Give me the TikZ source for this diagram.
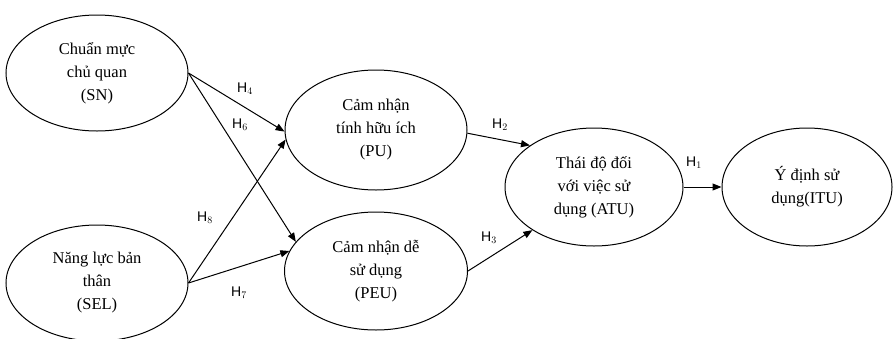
\documentclass[tikz,border=0pt]{standalone}
\usepackage{fontspec}
\setmainfont{Liberation Serif}
\newfontfamily\labfont{Liberation Sans}
\usetikzlibrary{shapes.geometric,arrows.meta}
\begin{document}
\begin{tikzpicture}[x=1pt,y=-1pt,
 var/.style={draw,ellipse,line width=1pt,inner sep=0pt,align=center,font=\fontsize{16.5}{23}\selectfont},
 conn/.style={draw,line width=1pt,-{Triangle[length=9pt,width=7pt]}},
 hlab/.style={font=\labfont\fontsize{14}{16}\selectfont,inner sep=0pt}]
\useasboundingbox (0,0) rectangle (894,338);
\node[var,minimum width=182pt,minimum height=116pt] (SN) at (97,73) {Chuẩn mực\\chủ quan\\(SN)};
\node[var,minimum width=182pt,minimum height=116pt] (SEL) at (97,283) {Năng lực bản\\thân\\(SEL)};
\node[var,minimum width=182pt,minimum height=120pt] (PU) at (376,130) {Cảm nhận\\tính hữu ích\\(PU)};
\node[var,minimum width=183pt,minimum height=118pt] (PEU) at (376,271) {Cảm nhận dễ\\sử dụng\\(PEU)};
\node[var,minimum width=178pt,minimum height=118pt] (ATU) at (594,187) {Thái độ đối\\với việc sử\\dụng (ATU)};
\node[var,minimum width=170pt,minimum height=118pt] (ITU) at (807,187) {Ý định sử\\dụng(ITU)};
\draw[conn] (SN.east) -- (PU.181);
\draw[conn] (SN.east) -- (PEU.160);
\draw[conn] (SEL.east) -- (PU.186);
\draw[conn] (SEL.east) -- (PEU.167);
\draw[conn] (PU.-2) -- (ATU.147);
\draw[conn] (PEU.0) -- (ATU.215);
\draw[conn] (ATU.east) -- (ITU.west);
\node[hlab] (h4) at (245,89) {H$_4$};
\node[hlab] (h6) at (240,125) {H$_6$};
\node[hlab] (h8) at (205,218) {H$_8$};
\node[hlab] (h7) at (239,293) {H$_7$};
\node[hlab] (h2) at (500,125) {H$_2$};
\node[hlab] (h3) at (489,238) {H$_3$};
\node[hlab] (h1) at (694,163) {H$_1$};
\end{tikzpicture}
\end{document}
